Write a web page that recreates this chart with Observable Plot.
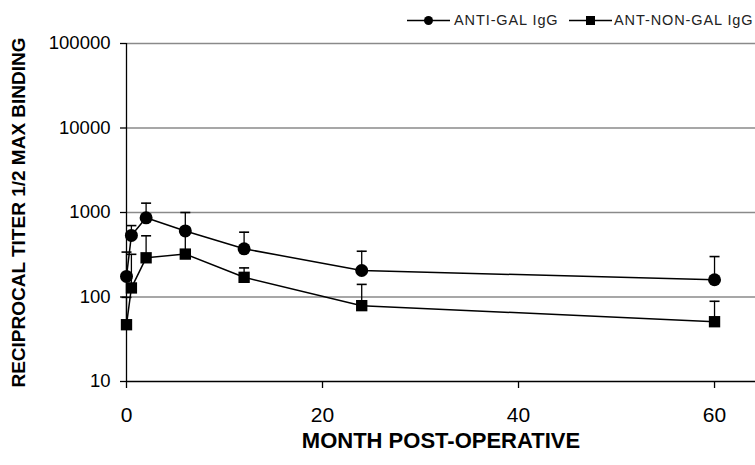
<!DOCTYPE html>
<html><head><meta charset="utf-8">
<script src="https://cdn.jsdelivr.net/npm/d3@7"></script>
<script src="https://cdn.jsdelivr.net/npm/@observablehq/plot@0.6"></script>
<style>
html,body{margin:0;padding:0;background:#fff;overflow:hidden}
#wrap{position:relative;width:755px;height:465px;font-family:"Liberation Sans",Arial,sans-serif}
#legend{position:absolute;left:0;top:0}
</style></head><body><div id="wrap"></div>
<script>
const months = [0, 0.5, 2, 6, 12, 24, 60];
const seriesNames = ["ANTI-GAL IgG", "ANT-NON-GAL IgG"];
const antiGal = [175, 535, 865, 605, 372, 206, 160];
const antiGalUpper = [340, 700, 1290, 1000, 585, 348, 301];
const nonGal = [47, 128, 291, 322, 171, 79, 51];
const nonGalUpper = [99, 320, 530, 560, 221, 141, 89];
const yTicks = [10, 100, 1000, 10000, 100000];
const gridTicks = [100, 1000, 10000, 100000];
const xTicks = [0, 20, 40, 60];
const xTitle = "MONTH POST-OPERATIVE";
const yTitle = "RECIPROCAL TITER 1/2 MAX BINDING";

const rows = months.flatMap((m, i) => [
  {series: seriesNames[0], month: m, value: antiGal[i], upper: antiGalUpper[i]},
  {series: seriesNames[1], month: m, value: nonGal[i], upper: nonGalUpper[i]}
]);
const cap = {draw(ctx, size) { const w = Math.sqrt(size / Math.PI); ctx.moveTo(-w, 0); ctx.lineTo(w, 0); }};

const plot = Plot.plot({
  width: 755, height: 465,
  marginLeft: 126, marginRight: 0, marginTop: 43, marginBottom: 84,
  style: {fontFamily: "Liberation Sans, Arial, sans-serif", color: "#000", background: "#fff"},
  x: {domain: [0, 64.18]},
  y: {type: "log", domain: [10, 100000]},
  marks: [
    Plot.gridY(gridTicks, {stroke: "#8a8a8a", strokeOpacity: 1, strokeWidth: 1.5}),
    Plot.ruleX([0], {stroke: "#000", strokeWidth: 1.3}),
    Plot.ruleY([10], {stroke: "#000", strokeWidth: 1.3}),
    Plot.axisY(yTicks, {tickSize: 6, tickPadding: 10, fontSize: 18.5, tickFormat: d => String(d), label: null, strokeWidth: 1.3}),
    Plot.axisX(xTicks, {tickSize: 7, tickPadding: 19, fontSize: 21, tickFormat: d => String(d), label: null, strokeWidth: 1.3}),
    Plot.ruleX(rows, {x: "month", y1: "value", y2: "upper", stroke: "#000", strokeWidth: 1.3}),
    Plot.dot(rows, {x: "month", y: "upper", symbol: cap, r: 5, stroke: "#000", strokeWidth: 1.6}),
    Plot.line(rows, {x: "month", y: "value", z: "series", stroke: "#000", strokeWidth: 1.5}),
    Plot.dot(rows.filter(d => d.series === seriesNames[0]), {x: "month", y: "value", symbol: "circle", r: 6.5, fill: "#000"}),
    Plot.dot(rows.filter(d => d.series === seriesNames[1]), {x: "month", y: "value", symbol: "square", r: 6.4, fill: "#000"}),
    Plot.text([xTitle], {frameAnchor: "bottom", lineAnchor: "middle", textAnchor: "middle", dy: 59, fontSize: 22, fontWeight: "bold", fill: "#000"}),
    Plot.text([yTitle], {frameAnchor: "left", lineAnchor: "middle", textAnchor: "middle", rotate: -90, dx: -108, fontSize: 19, fontWeight: "bold", fill: "#000"})
  ]
});
const wrap = document.getElementById("wrap");
wrap.appendChild(plot);

const leg = d3.select(wrap).append("svg").attr("id", "legend").attr("width", 755).attr("height", 40);
const items = [
  {name: seriesNames[0], x1: 407, x2: 450, tx: 454, sym: "circle"},
  {name: seriesNames[1], x1: 569, x2: 612, tx: 614, sym: "square"}
];
for (const it of items) {
  leg.append("line").attr("x1", it.x1).attr("x2", it.x2).attr("y1", 20.5).attr("y2", 20.5).attr("stroke", "#000").attr("stroke-width", 1.5);
  const cx = (it.x1 + it.x2) / 2;
  if (it.sym === "circle") leg.append("circle").attr("cx", cx).attr("cy", 20.5).attr("r", 4.5).attr("fill", "#000");
  else leg.append("rect").attr("x", cx - 4.5).attr("y", 16).attr("width", 9).attr("height", 9).attr("fill", "#000");
  leg.append("text").attr("x", it.tx).attr("y", 24.5).attr("font-size", 14.5).attr("letter-spacing", 0.9)
    .attr("font-family", "Liberation Sans, Arial, sans-serif").attr("fill", "#222").text(it.name);
}
</script>
</body></html>
